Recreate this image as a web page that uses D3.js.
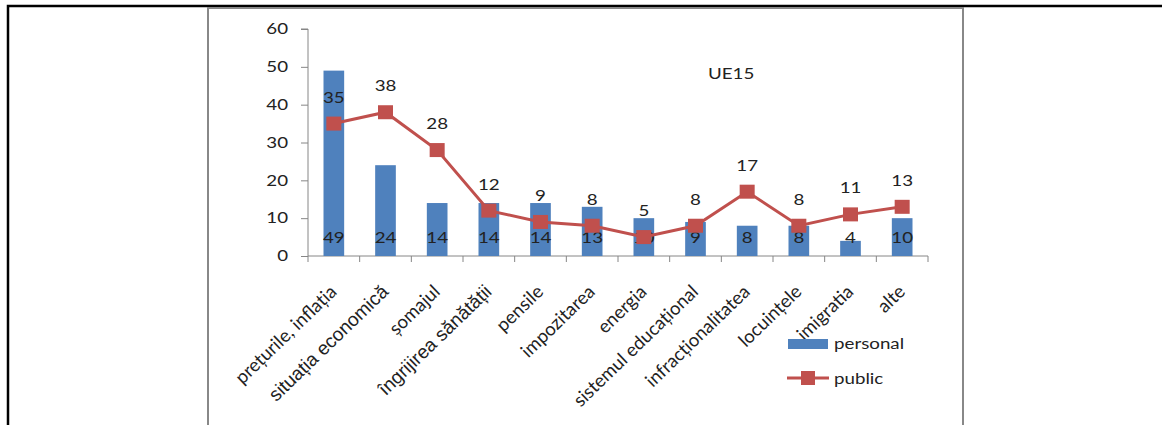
<!DOCTYPE html>
<html lang="ro">
<head>
<meta charset="UTF-8">
<title>UE15</title>
<script src="https://d3js.org/d3.v7.min.js"></script>
<style>
  body { margin: 0; background: #fff; }
  text { font-family: Lato, "Open Sans", sans-serif; fill: #222; }
</style>
</head>
<body>
<svg id="chart" width="1162" height="425"></svg>
<script>
// categories and values
const categories = ['prețurile, inflația', 'situația  economică', 'șomajul', 'îngrijirea sănătății',
    'pensile', 'impozitarea', 'energia', 'sistemul educațional', 'infracționalitatea',
    'locuințele', 'imigratia', 'alte'];
const personal = [49, 24, 14, 14, 14, 13, 10, 9, 8, 8, 4, 10];
const publicVals = [35, 38, 28, 12, 9, 8, 5, 8, 17, 8, 11, 13];
const yTicks = [0, 10, 20, 30, 40, 50, 60];
const arialLabels = ['situația  economică', 'îngrijirea sănătății']; // these two use a different font

const svg = d3.select('#chart');
const blue = '#4F81BD', red = '#C0504D';
const sx = 1.25; // the original text looks horizontally stretched

// outer page frame
svg.append('path').attr('d', 'M8,425 V6 H1162').attr('fill', 'none').attr('stroke', '#000').attr('stroke-width', 2.5);
// chart area frame
svg.append('path').attr('d', 'M208,425 V8 H963 V425').attr('fill', 'none').attr('stroke', '#888').attr('stroke-width', 2);

const x = d3.scaleBand().domain(categories).range([308, 928]).paddingInner(0.6).paddingOuter(0.3);
const y = d3.scaleLinear().domain([0, 60]).range([256, 29]);
const step = x.step();
const cx = d => x(d) + x.bandwidth() / 2;

// horizontal text helper
function label(g, px, py, txt, anchor) {
    return g.append('text')
        .attr('transform', `translate(${px},${py}) scale(${sx},1)`)
        .attr('text-anchor', anchor || 'start')
        .style('font-size', '15px')
        .text(txt);
}

// y axis
const yAxis = svg.append('g').attr('transform', 'translate(308,0)')
    .call(d3.axisLeft(y).tickValues(yTicks).tickSize(7).tickPadding(12));
yAxis.selectAll('path, line').attr('stroke', '#868686');
yAxis.select('.domain').attr('d', `M-7,${y(60)}H0V${y(0)}`);
yAxis.selectAll('text')
    .attr('x', null)
    .attr('transform', `translate(-20,0) scale(${sx},1)`)
    .style('font-size', '15px').style('font-family', 'Lato, sans-serif').attr('fill', '#222');

// x axis line with ticks between categories
const xg = svg.append('g');
xg.append('line').attr('x1', 308).attr('x2', 928).attr('y1', y(0)).attr('y2', y(0)).attr('stroke', '#868686');
xg.selectAll('.xt').data(d3.range(categories.length + 1)).enter().append('line')
    .attr('x1', i => 308 + i * step).attr('x2', i => 308 + i * step)
    .attr('y1', y(0)).attr('y2', y(0) + 6).attr('stroke', '#868686');

// bars
svg.selectAll('.bar').data(categories).enter().append('rect')
    .attr('x', d => x(d)).attr('width', x.bandwidth())
    .attr('y', (d, i) => y(personal[i])).attr('height', (d, i) => y(0) - y(personal[i]))
    .attr('fill', blue);

// bar labels
const bl = svg.append('g');
categories.forEach((c, i) => label(bl, cx(c), y(0) - 13, personal[i], 'middle'));

// public line
const line = d3.line().x((d, i) => cx(categories[i])).y(d => y(d));
svg.append('path').datum(publicVals).attr('d', line)
    .attr('fill', 'none').attr('stroke', red).attr('stroke-width', 3);
svg.selectAll('.mk').data(publicVals).enter().append('rect')
    .attr('x', (d, i) => cx(categories[i]) - 7.5).attr('y', d => y(d) - 7)
    .attr('width', 15).attr('height', 14).attr('fill', red);
const pl = svg.append('g');
publicVals.forEach((v, i) => label(pl, cx(categories[i]), y(v) - 21, v, 'middle'));

// category labels
svg.selectAll('.xl').data(categories).enter().append('text')
    .attr('transform', d => `translate(${cx(d) + 4},${y(0) + 37}) rotate(-44)`)
    .attr('text-anchor', 'end')
    .style('font-size', d => arialLabels.includes(d) ? '19px' : '18.5px')
    .style('font-family', d => arialLabels.includes(d) ? '"Liberation Sans", Arial, sans-serif' : 'Lato, sans-serif')
    .text(d => d);

// title inside plot
label(svg, 708, 79, 'UE15');

// legend
const lg = svg.append('g');
lg.append('rect').attr('x', 788).attr('y', 339).attr('width', 40).attr('height', 10).attr('fill', blue);
label(lg, 834, 349, 'personal');
lg.append('line').attr('x1', 787).attr('x2', 829).attr('y1', 378).attr('y2', 378).attr('stroke', red).attr('stroke-width', 3);
lg.append('rect').attr('x', 801).attr('y', 371).attr('width', 14).attr('height', 14).attr('fill', red);
label(lg, 834, 384, 'public');
</script>
</body>
</html>
